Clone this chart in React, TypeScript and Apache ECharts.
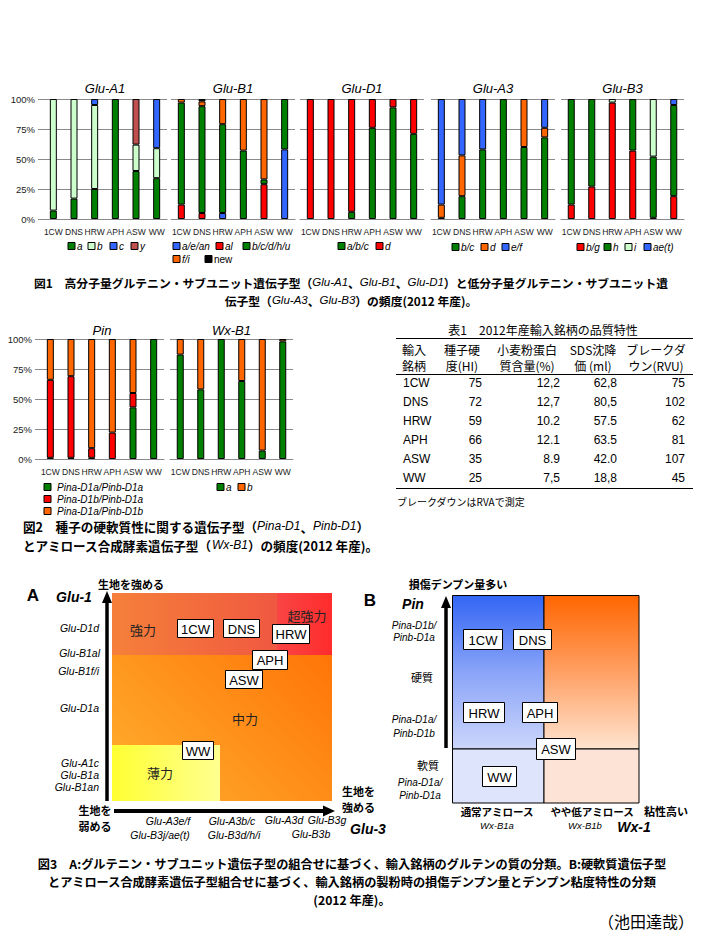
import React, { useEffect, useRef } from 'react';
import * as echarts from 'echarts';

// ---------- data ----------
const brands = ['1CW', 'DNS', 'HRW', 'APH', 'ASW', 'WW'];

// Glu-A1
const gluA1_a = [7, 17, 25, 100, 40, 34];
const gluA1_b = [93, 83, 70, 0, 22, 25];
const gluA1_c = [0, 0, 5, 0, 0, 41];
const gluA1_y = [0, 0, 0, 0, 38, 0];
// Glu-B1
const gluB1_aean = [0, 0, 5, 0, 0, 58];
const gluB1_al = [12, 5, 0, 0, 29, 0];
const gluB1_bcdhu = [85, 89, 74, 57, 4, 42];
const gluB1_fi = [3, 4, 21, 43, 67, 0];
const gluB1_new = [0, 2, 0, 0, 0, 0];
// Glu-D1
const gluD1_abc = [0, 0, 6, 76, 93, 71];
const gluD1_d = [100, 100, 94, 24, 7, 29];
// Glu-A3
const gluA3_bc = [1, 19, 58, 100, 60, 68];
const gluA3_d = [11, 34, 0, 0, 40, 8];
const gluA3_ef = [88, 47, 42, 0, 0, 24];
// Glu-B3
const gluB3_bg = [12, 27, 97, 57, 1, 19];
const gluB3_h = [88, 73, 0, 43, 51, 76];
const gluB3_i = [0, 0, 3, 0, 48, 0];
const gluB3_aet = [0, 0, 0, 0, 0, 5];
// Pin
const pin_aa = [1, 1, 1, 0, 43, 100];
const pin_ba = [65, 68, 8, 22, 12, 0];
const pin_ab = [34, 31, 91, 78, 45, 0];
// Wx-B1
const wx_a = [87, 58, 100, 65, 7, 98];
const wx_b = [13, 42, 0, 35, 93, 2];

// Table 1
const tblHardness = ['75', '72', '59', '66', '35', '25'];
const tblProtein = ['12,2', '12,7', '10.2', '12.1', '8.9', '7,5'];
const tblSDS = ['62,8', '80,5', '57.5', '63.5', '42.0', '18,8'];
const tblBreakdown = ['75', '102', '62', '81', '107', '45'];
const tblHeaders1 = ['輸入', '種子硬', '小麦粉蛋白', 'SDS沈降', 'ブレークダ'];
const tblHeaders2 = ['銘柄', '度(HI)', '質含量(%)', '価 (ml)', 'ウン(RVU)'];

const yTicks = [0, 25, 50, 75, 100];

// ---------- styles ----------
const GREEN = '#008000';
const LGREEN = '#ccffcc';
const BLUE = '#3366ff';
const BROWN = '#c0504d';
const RED = '#ff0000';
const ORANGE = '#ff6600';
const BLACK = '#000000';
const FONT_JP = '"Noto Sans CJK JP", "Noto Sans", sans-serif';
const FONT_LAT = '"Liberation Sans", Arial, sans-serif';
const AXIS_GRAY = '#8a8a8a';

type Seg = { name: string; color: string; values: number[]; italic?: boolean };
type Panel = {
  title: string; left: number; top: number; width: number; height: number;
  showY: boolean; segs: Seg[]; legendPos: number[][]; legendGap: number;
};

const panels: Panel[] = [
  {
    title: 'Glu-A1', left: 43, top: 99, width: 124, height: 120, showY: true,
    segs: [
      { name: 'a', color: GREEN, values: gluA1_a },
      { name: 'b', color: LGREEN, values: gluA1_b },
      { name: 'c', color: BLUE, values: gluA1_c },
      { name: 'y', color: BROWN, values: gluA1_y },
    ],
    legendPos: [[68, 246], [88, 246], [110, 246], [131, 246]], legendGap: 9,
  },
  {
    title: 'Glu-B1', left: 171, top: 99, width: 124, height: 120, showY: false,
    segs: [
      { name: 'a/e/an', color: BLUE, values: gluB1_aean },
      { name: 'al', color: RED, values: gluB1_al },
      { name: 'b/c/d/h/u', color: GREEN, values: gluB1_bcdhu },
      { name: 'f/i', color: ORANGE, values: gluB1_fi },
      { name: 'new', color: BLACK, values: gluB1_new, italic: false },
    ],
    legendPos: [[173, 246], [216, 246], [243, 246], [173, 259], [205, 259]], legendGap: 9,
  },
  {
    title: 'Glu-D1', left: 300, top: 99, width: 124, height: 120, showY: false,
    segs: [
      { name: 'a/b/c', color: GREEN, values: gluD1_abc },
      { name: 'd', color: RED, values: gluD1_d },
    ],
    legendPos: [[338, 246], [376, 246]], legendGap: 9,
  },
  {
    title: 'Glu-A3', left: 431, top: 99, width: 124, height: 120, showY: false,
    segs: [
      { name: 'b/c', color: GREEN, values: gluA3_bc },
      { name: 'd', color: ORANGE, values: gluA3_d },
      { name: 'e/f', color: BLUE, values: gluA3_ef },
    ],
    legendPos: [[452, 247], [481, 247], [502, 247]], legendGap: 9,
  },
  {
    title: 'Glu-B3', left: 561, top: 99, width: 123, height: 120, showY: false,
    segs: [
      { name: 'b/g', color: RED, values: gluB3_bg },
      { name: 'h', color: GREEN, values: gluB3_h },
      { name: 'i', color: LGREEN, values: gluB3_i },
      { name: 'ae(t)', color: BLUE, values: gluB3_aet },
    ],
    legendPos: [[577, 247], [604, 247], [625, 247], [644, 247]], legendGap: 9,
  },
  {
    title: 'Pin', left: 40, top: 339, width: 124, height: 120, showY: true,
    segs: [
      { name: 'Pina-D1a/Pinb-D1a', color: GREEN, values: pin_aa },
      { name: 'Pina-D1b/Pinb-D1a', color: RED, values: pin_ba },
      { name: 'Pina-D1a/Pinb-D1b', color: ORANGE, values: pin_ab },
    ],
    legendPos: [[44, 487], [44, 499], [44, 511]], legendGap: 13,
  },
  {
    title: 'Wx-B1', left: 170, top: 339, width: 123, height: 120, showY: false,
    segs: [
      { name: 'a', color: GREEN, values: wx_a },
      { name: 'b', color: ORANGE, values: wx_b },
    ],
    legendPos: [[217, 487], [238, 487]], legendGap: 9,
  },
];

function buildOption() {
  const g: any[] = [];
  const T = (x: number, y: number, text: string, o: any = {}) => {
    const size = o.size || 12;
    g.push({
      type: 'text', x, y, z: o.z ?? 20, silent: true,
      style: {
        text,
        fill: o.fill || '#000',
        fontSize: size,
        fontFamily: o.family || FONT_JP,
        fontWeight: o.weight || 'normal',
        fontStyle: o.style || 'normal',
        textAlign: o.align || 'center',
        textVerticalAlign: o.valign || 'middle',
        lineHeight: o.lh ?? Math.round(size * 1.1),
        rich: o.rich,
      },
    });
  };
  const R = (x: number, y: number, w: number, h: number, fill: any, o: any = {}) => {
    g.push({
      type: 'rect', z: o.z ?? 5, silent: true,
      shape: { x, y, width: w, height: h },
      style: { fill, stroke: o.stroke ?? null, lineWidth: o.lw ?? 1 },
    });
  };
  const L = (x1: number, y1: number, x2: number, y2: number, w = 1, z = 6) => {
    g.push({ type: 'line', z, silent: true, shape: { x1, y1, x2, y2 }, style: { stroke: '#000', lineWidth: w } });
  };
  const P = (pts: number[][], z = 12) => {
    g.push({ type: 'polygon', z, silent: true, shape: { points: pts }, style: { fill: '#000' } });
  };

  // panel titles & legends
  panels.forEach((p) => {
    T(p.left + p.width / 2, p.top - 11 - (p.top > 300 ? -2 : 0), p.title, { size: 13, family: FONT_LAT, style: 'italic' });
    p.segs.forEach((s, i) => {
      const [lx, ly] = p.legendPos[i];
      R(lx, ly - 3.5, 7, 7, s.color, { stroke: '#000', lw: 1, z: 10 });
      T(lx + p.legendGap, ly, s.name, { size: 10, family: FONT_LAT, style: s.italic === false ? 'normal' : 'italic', align: 'left' });
    });
  });

  const rich = { i: { fontStyle: 'italic', fontFamily: FONT_LAT, fontWeight: 'normal', fontSize: 11.5, lineHeight: 13 } };
  // Caption 1
  T(351, 282, '図1　高分子量グルテニン・サブユニット遺伝子型（{i|Glu-A1}、{i|Glu-B1}、{i|Glu-D1}）と低分子量グルテニン・サブユニット遺', { size: 11.8, weight: 'bold', rich });
  T(351, 300, '伝子型（{i|Glu-A3}、{i|Glu-B3}）の頻度(2012 年産)。', { size: 11.8, weight: 'bold', rich });
  // Caption 2
  const rich2 = { i: { fontStyle: 'italic', fontFamily: FONT_LAT, fontWeight: 'normal', fontSize: 12, lineHeight: 14 } };
  T(23, 526, '図2　種子の硬軟質性に関する遺伝子型（{i|Pina-D1}、{i|Pinb-D1}）', { size: 12.6, weight: 'bold', align: 'left', rich: rich2 });
  T(23, 545, 'とアミロース合成酵素遺伝子型（{i|Wx-B1}）の頻度(2012 年産)。', { size: 12.6, weight: 'bold', align: 'left', rich: rich2 });
  // Caption 3
  T(352, 864, '図3　A:グルテニン・サブユニット遺伝子型の組合せに基づく、輸入銘柄のグルテンの質の分類。B:硬軟質遺伝子型', { size: 12.2, weight: 'bold' });
  T(352, 882, 'とアミロース合成酵素遺伝子型組合せに基づく、輸入銘柄の製粉時の損傷デンプン量とデンプン粘度特性の分類', { size: 12.2, weight: 'bold' });
  T(352, 900, '(2012 年産)。', { size: 12.2, weight: 'bold' });
  T(694, 921, '（池田達哉）', { size: 16, align: 'right' });

  // ---------- Table 1 ----------
  T(543, 329, '表1　2012年産輸入銘柄の品質特性', { size: 12 });
  L(396, 338.5, 693, 338.5, 1);
  L(396, 374.5, 693, 374.5, 1);
  L(396, 488.5, 693, 488.5, 1);
  const hx = [414, 462, 527, 593, 656];
  tblHeaders1.forEach((h, i) => T(hx[i], 349, h, { size: 12 }));
  tblHeaders2.forEach((h, i) => T(hx[i], 365, h, { size: 12 }));
  const cols = [tblHardness, tblProtein, tblSDS, tblBreakdown];
  const colRight = [482, 560, 617, 685];
  brands.forEach((b, r) => {
    const y = 383 + r * 19;
    T(403, y, b, { size: 12, family: FONT_LAT, align: 'left' });
    cols.forEach((c, ci) => T(colRight[ci], y, c[r], { size: 12, family: FONT_LAT, align: 'right' }));
  });
  T(397, 501, 'ブレークダウンはRVAで測定', { size: 10, align: 'left' });

  // ---------- Diagram A ----------
  const lg = (c: string[], x2 = 1, y2 = 0) =>
    new echarts.graphic.LinearGradient(0, 0, x2, y2, c.map((col, i) => ({ offset: i / (c.length - 1), color: col })));
  R(112, 593, 220, 208, new echarts.graphic.LinearGradient(0, 1, 1, 0, [
    { offset: 0, color: '#ffb030' }, { offset: 1, color: '#ff6a00' }]), { z: 2 });
  R(112, 593, 220, 62, lg(['#f5803a', '#f2663e', '#ee4a44']), { z: 3 });
  R(277, 593, 55, 62, lg(['#f94545', '#ff2c2c']), { z: 4 });
  R(112, 745, 108, 56, lg(['#ffff33', '#ffff90']), { z: 4 });

  T(33, 595, 'A', { size: 17, family: FONT_LAT, weight: 'bold' });
  T(74, 597, 'Glu-1', { size: 14, family: FONT_LAT, weight: 'bold', style: 'italic' });
  T(131, 584, '生地を強める', { size: 11, weight: 'bold' });
  // vertical arrow
  L(107, 801, 107, 601, 3.5, 12);
  P([[107, 591], [102, 603], [112, 603]]);
  // horizontal arrow
  L(114, 811, 326, 811, 4, 12);
  P([[335, 811], [323, 805.5], [323, 816.5]]);

  const geneA = { size: 10.5, family: FONT_LAT, style: 'italic', align: 'right' };
  T(99, 628, 'Glu-D1d', geneA);
  T(100, 653, 'Glu-B1al', geneA);
  T(99, 671, 'Glu-B1f/i', geneA);
  T(99, 708, 'Glu-D1a', geneA);
  T(99, 763, 'Glu-A1c', geneA);
  T(99, 775, 'Glu-B1a', geneA);
  T(99, 787, 'Glu-B1an', geneA);
  T(95, 810, '生地を', { size: 11, weight: 'bold' });
  T(95, 826, '弱める', { size: 11, weight: 'bold' });
  T(342, 791, '生地を', { size: 11, weight: 'bold', align: 'left' });
  T(342, 807, '強める', { size: 11, weight: 'bold', align: 'left' });
  T(368, 829, 'Glu-3', { size: 14, family: FONT_LAT, weight: 'bold', style: 'italic' });
  const geneX = { size: 10.5, family: FONT_LAT, style: 'italic' };
  T(168, 821, 'Glu-A3e/f', geneX);
  T(160, 835, 'Glu-B3j/ae(t)', geneX);
  T(232, 821, 'Glu-A3b/c', geneX);
  T(234, 835, 'Glu-B3d/h/i', geneX);
  T(284, 820, 'Glu-A3d', geneX);
  T(327, 820, 'Glu-B3g', geneX);
  T(311, 834, 'Glu-B3b', geneX);

  T(143, 629, '強力', { size: 13, fill: '#222' });
  T(307, 615, '超強力', { size: 13, fill: '#222' });
  T(245, 718, '中力', { size: 13, fill: '#222' });
  T(160, 772, '薄力', { size: 13, fill: '#222' });

  const box = (x: number, y: number, w: number, h: number, label: string) => {
    R(x + 0.5, y + 0.5, w, h, '#ffffff', { stroke: '#000', lw: 1, z: 8 });
    T(x + w / 2 + 0.5, y + h / 2 + 1, label, { size: 13, family: FONT_LAT, z: 9 });
  };
  box(177, 619, 36, 18, '1CW');
  box(223, 619, 36, 18, 'DNS');
  box(272, 624, 37, 19, 'HRW');
  box(252, 650, 35, 19, 'APH');
  box(225, 670, 37, 18, 'ASW');
  box(182, 741, 31, 18, 'WW');

  // ---------- Diagram B ----------
  R(452.5, 595.5, 91.5, 153.5, lg(['#3366f5', '#8aa4f8', '#ccd6fb'], 0, 1), { stroke: '#000', z: 3 });
  R(544, 595.5, 95, 153.5, lg(['#ff6600', '#ffa064', '#ffe4d0'], 0, 1), { stroke: '#000', z: 3 });
  R(452.5, 749, 91.5, 54, '#dde4fb', { stroke: '#000', z: 3 });
  R(544, 749, 95, 54, '#fde3d6', { stroke: '#000', z: 3 });

  T(370, 600, 'B', { size: 17, family: FONT_LAT, weight: 'bold' });
  T(458, 584, '損傷デンプン量多い', { size: 11, weight: 'bold' });
  T(413, 604, 'Pin', { size: 14, family: FONT_LAT, weight: 'bold', style: 'italic' });
  L(446, 748, 446, 606, 3.5, 12);
  P([[446, 596], [441, 608], [451, 608]]);
  const geneB = { size: 10, family: FONT_LAT, style: 'italic' };
  T(414, 625, 'Pina-D1b/', geneB);
  T(414, 637, 'Pinb-D1a', geneB);
  T(422, 677, '硬質', { size: 11 });
  T(414, 719, 'Pina-D1a/', geneB);
  T(414, 733, 'Pinb-D1b', geneB);
  T(428, 765, '軟質', { size: 11 });
  T(420, 782, 'Pina-D1a/', geneB);
  T(420, 795, 'Pinb-D1a', geneB);
  const geneB2 = { size: 9.5, family: FONT_LAT, style: 'italic' };
  T(497, 811, '通常アミロース', { size: 10.5, weight: 'bold' });
  T(497, 825, 'Wx-B1a', geneB2);
  T(592, 811, 'やや低アミロース', { size: 10.5, weight: 'bold' });
  T(585, 825, 'Wx-B1b', geneB2);
  T(666, 811, '粘性高い', { size: 11, weight: 'bold' });
  T(634, 827, 'Wx-1', { size: 14, family: FONT_LAT, weight: 'bold', style: 'italic' });
  box(463, 629, 39, 20, '1CW');
  box(513, 629, 38, 20, 'DNS');
  box(463, 702, 41, 20, 'HRW');
  box(522, 702, 35, 20, 'APH');
  box(536, 738, 39, 21, 'ASW');
  box(482, 766, 34, 20, 'WW');

  // ---------- bar charts ----------
  const grid = panels.map((p) => ({ left: p.left, top: p.top, width: p.width, height: p.height, containLabel: false }));
  const xAxis = panels.map((p, i) => ({
    gridIndex: i, type: 'category', data: brands,
    axisLine: { lineStyle: { color: AXIS_GRAY } },
    axisTick: { length: 4, lineStyle: { color: AXIS_GRAY } },
    axisLabel: { interval: 0, fontSize: 8.5, color: '#1a1a1a', margin: 8, fontFamily: FONT_LAT, hideOverlap: false },
  }));
  const yAxis = panels.map((p, i) => ({
    gridIndex: i, type: 'value', min: yTicks[0], max: yTicks[yTicks.length - 1], interval: yTicks[1] - yTicks[0],
    axisLine: { show: false },
    axisTick: { show: p.showY, length: 5, lineStyle: { color: AXIS_GRAY } },
    axisLabel: { show: p.showY, formatter: '{value}%', fontSize: 9.5, color: '#1a1a1a', margin: 8, fontFamily: FONT_LAT },
    splitLine: { lineStyle: { color: AXIS_GRAY, width: 1 } },
  }));
  const series: any[] = [];
  panels.forEach((p, i) => {
    p.segs.forEach((s) => {
      series.push({
        type: 'bar', name: s.name, stack: 'st' + i, xAxisIndex: i, yAxisIndex: i,
        barWidth: 7, silent: true,
        data: s.values.map((v) => (v === 0 ? '-' : v)),
        itemStyle: { color: s.color, borderColor: '#000', borderWidth: 1 },
      });
    });
  });

  return {
    animation: false,
    backgroundColor: '#ffffff',
    textStyle: { fontFamily: FONT_LAT },
    grid, xAxis, yAxis, series,
    graphic: { elements: g },
  };
}

export default function App() {
  const ref = useRef<HTMLDivElement>(null);
  useEffect(() => {
    if (!ref.current) return;
    const chart = echarts.init(ref.current, null, { renderer: 'svg' });
    chart.setOption(buildOption() as any);
    return () => chart.dispose();
  }, []);
  return (
    <div
      ref={ref}
      style={{ position: 'absolute', left: 0, top: 0, width: 705, height: 936, background: '#fff' }}
    />
  );
}
